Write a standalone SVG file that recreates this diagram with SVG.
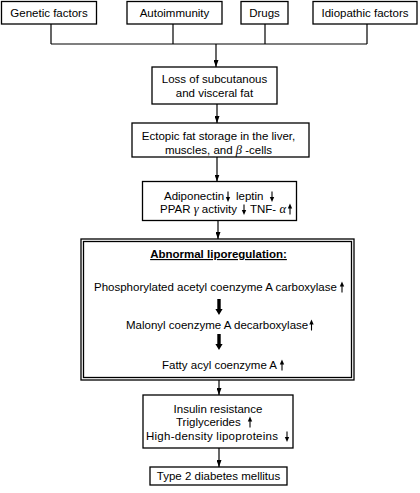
<svg xmlns="http://www.w3.org/2000/svg" width="420" height="493" viewBox="0 0 420 493">
<defs>
<style>
.box{fill:#fff;stroke:#000;stroke-width:1.3}
.dbl{fill:none;stroke:#000;stroke-width:1.3}
.t{font-family:"Liberation Sans",Arial,sans-serif;font-size:11.5px;fill:#000;text-anchor:middle}
.s{font-family:"Liberation Sans",Arial,sans-serif;font-size:11.5px;fill:#000}
.g{font-family:"Liberation Serif","Times New Roman",serif;font-style:italic;font-size:12.5px}
.c{fill:none;stroke:#000;stroke-width:1.2}
.ia{stroke:#000;stroke-width:1.1;fill:none}
</style>
<marker id="ah" viewBox="0 0 7 5" refX="7" refY="2.5" markerWidth="7" markerHeight="5" markerUnits="userSpaceOnUse" orient="auto">
<path d="M0,0 L7,2.5 L0,5 Z" fill="#000"/>
</marker>
<g id="up"><line class="ia" x1="0" y1="-5" x2="0" y2="1.5"/><path d="M0,-9.5 L-2.2,-4.5 L2.2,-4.5 Z" fill="#000"/></g>
<g id="dn"><line class="ia" x1="0" y1="-8.5" x2="0" y2="-2"/><path d="M0,2 L-2.2,-3 L2.2,-3 Z" fill="#000"/></g>
<path id="bold" d="M-1.7,0 H1.7 V10 H3.6 L0,16 L-3.6,10 H-1.7 Z" fill="#000"/>
</defs>

<g id="connectors">
<path class="c" d="M51,24 V44 M173,24 V44 M265,24 V44 M367,24 V44 M51,44 H367"/>
<line class="c" x1="216" y1="44" x2="216" y2="67" marker-end="url(#ah)"/>
<line class="c" x1="217" y1="104" x2="217" y2="123" marker-end="url(#ah)"/>
<line class="c" x1="217" y1="157" x2="217" y2="181.5" marker-end="url(#ah)"/>
<line class="c" x1="218" y1="220.5" x2="218" y2="239" marker-end="url(#ah)"/>
<line class="c" x1="219" y1="380" x2="219" y2="395" marker-end="url(#ah)"/>
<line class="c" x1="219" y1="448" x2="219" y2="467" marker-end="url(#ah)"/>
</g>

<g id="genetic">
<rect class="box" x="1.5" y="1.5" width="95" height="22.5"/>
<text class="t" x="49" y="17">Genetic factors</text>
</g>
<g id="autoimmunity">
<rect class="box" x="127" y="1.5" width="95" height="22.5"/>
<text class="t" x="174.5" y="17">Autoimmunity</text>
</g>
<g id="drugs">
<rect class="box" x="241" y="1.5" width="47" height="22.5"/>
<text class="t" x="264.5" y="17">Drugs</text>
</g>
<g id="idiopathic">
<rect class="box" x="313" y="1.5" width="104" height="22.5"/>
<text class="t" x="365" y="17">Idiopathic factors</text>
</g>

<g id="loss">
<rect class="box" x="152" y="67" width="125" height="37"/>
<text class="t" x="214.5" y="83">Loss of subcutanous</text>
<text class="t" x="214.5" y="97">and visceral fat</text>
</g>

<g id="ectopic">
<rect class="box" x="132" y="123" width="177" height="34"/>
<text class="t" x="218.5" y="140">Ectopic fat storage in the liver,</text>
<text class="t" x="218.5" y="154">muscles, and <tspan class="g">β</tspan> -cells</text>
</g>

<g id="adipokines">
<rect class="box" x="142.5" y="181.5" width="154" height="39"/>
<text class="s" x="164" y="200">Adiponectin</text>
<use href="#dn" x="228" y="200"/>
<text class="s" x="236" y="200">leptin</text>
<use href="#dn" x="272" y="200"/>
<text class="s" x="160" y="213">PPAR <tspan class="g">γ</tspan> activity</text>
<use href="#dn" x="244" y="213"/>
<text class="s" x="250" y="213">TNF- <tspan class="g">α</tspan></text>
<use href="#up" x="290" y="213"/>
</g>

<g id="liporegulation">
<rect class="dbl" x="81" y="239" width="273" height="141"/>
<rect class="dbl" x="83.5" y="241.5" width="268" height="136"/>
<text class="t" x="218.5" y="258" font-weight="bold" text-decoration="underline">Abnormal liporegulation:</text>
<text class="s" x="94" y="291">Phosphorylated acetyl coenzyme A carboxylase</text>
<use href="#up" x="342" y="291"/>
<use href="#bold" x="219" y="299"/>
<text class="s" x="126" y="329">Malonyl coenzyme A decarboxylase</text>
<use href="#up" x="311.5" y="329"/>
<use href="#bold" x="219" y="334"/>
<text class="s" x="162" y="369">Fatty acyl coenzyme A</text>
<use href="#up" x="282" y="369"/>
</g>

<g id="insulin">
<rect class="box" x="143" y="395" width="150" height="53"/>
<text class="t" x="218" y="413">Insulin resistance</text>
<text class="s" x="176" y="426">Triglycerides</text>
<use href="#up" x="250" y="426"/>
<text class="s" x="146" y="440" style="letter-spacing:0.25px">High-density lipoproteins</text>
<use href="#dn" x="287" y="440"/>
</g>

<g id="diabetes">
<rect class="box" x="150" y="467" width="137" height="18"/>
<text class="t" x="218.5" y="480">Type 2 diabetes mellitus</text>
</g>
</svg>
